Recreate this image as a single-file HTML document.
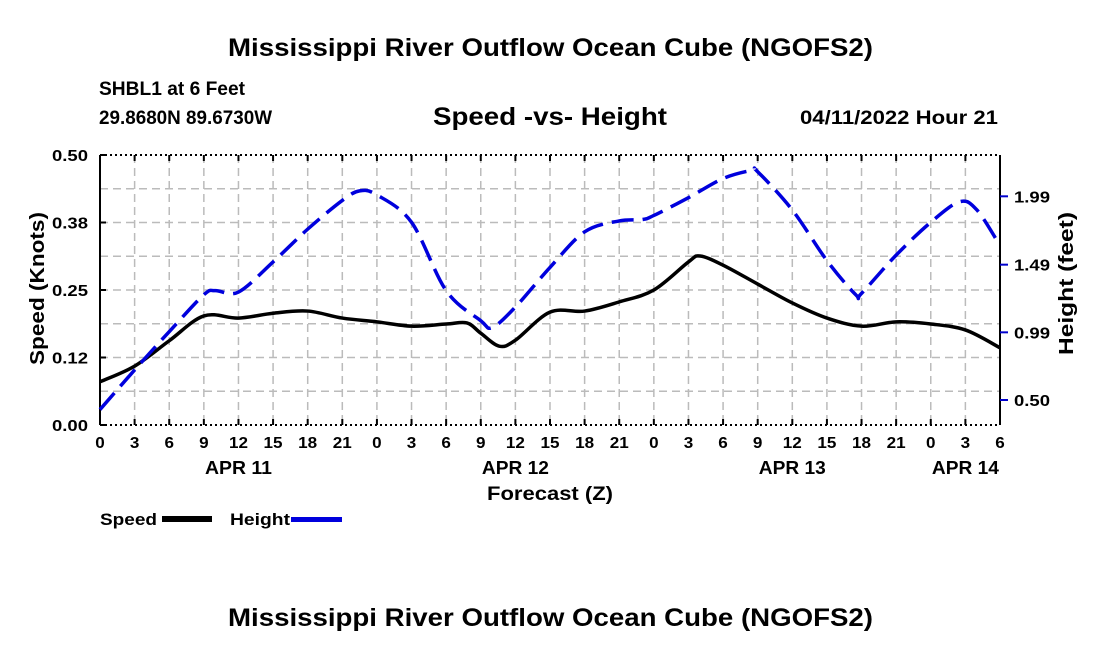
<!DOCTYPE html>
<html><head><meta charset="utf-8"><style>
body{margin:0;background:#fff;}
svg{display:block;font-family:"Liberation Sans",Arial,sans-serif;font-weight:bold;}
</style></head><body>
<svg id="chart" width="1100" height="650" viewBox="0 0 1100 650" xmlns="http://www.w3.org/2000/svg">
<text x="228" y="56" font-size="25" textLength="645" lengthAdjust="spacingAndGlyphs">Mississippi River Outflow Ocean Cube (NGOFS2)</text>
<text x="99" y="95" font-size="19" textLength="146" lengthAdjust="spacingAndGlyphs">SHBL1 at 6 Feet</text>
<text x="99" y="124" font-size="19" textLength="173" lengthAdjust="spacingAndGlyphs">29.8680N  89.6730W</text>
<text x="433" y="125" font-size="25" textLength="234" lengthAdjust="spacingAndGlyphs">Speed -vs- Height</text>
<text x="800" y="124" font-size="19" textLength="198" lengthAdjust="spacingAndGlyphs">04/11/2022 Hour 21</text>
<g id="grid"></g>
<g id="axes"></g>
<g id="series"></g>
<text transform="translate(44,365) rotate(-90)" font-size="20" textLength="153" lengthAdjust="spacingAndGlyphs">Speed (Knots)</text>
<text transform="translate(1073,355) rotate(-90)" font-size="20" textLength="143" lengthAdjust="spacingAndGlyphs">Height (feet)</text>
<text x="487" y="500" font-size="19" textLength="126" lengthAdjust="spacingAndGlyphs">Forecast (Z)</text>
<g>
<text x="100" y="525" font-size="17" textLength="57" lengthAdjust="spacingAndGlyphs">Speed</text>
<rect x="162" y="516" width="50" height="6" fill="#000"/>
<text x="230" y="525" font-size="17" textLength="60" lengthAdjust="spacingAndGlyphs">Height</text>
<rect x="291" y="517" width="51" height="5" fill="#0000dd"/>
</g>
<text x="228" y="626" font-size="25" textLength="645" lengthAdjust="spacingAndGlyphs">Mississippi River Outflow Ocean Cube (NGOFS2)</text>
</svg>
<script>
const speedHours=[0,3,6,9,12,15,18,21,24,27,30,31.8,33,34.6,36,39,42,45,48,51,52,54,57,60,63,66,69,72,75,78];
const speedValues=[0.080,0.109,0.156,0.202,0.198,0.207,0.211,0.198,0.191,0.183,0.187,0.189,0.170,0.146,0.157,0.209,0.211,0.228,0.250,0.302,0.313,0.296,0.261,0.226,0.198,0.183,0.191,0.187,0.176,0.143];
const heightHours=[0,3,6,9,10,12,15,18,21,22.5,24,27,30,33,34,36,39,42,45,47,48,51,54,56.5,57,60,63,65.5,66,69,72,74.5,76,78];
const heightValues=[0.43,0.72,1.00,1.27,1.30,1.29,1.51,1.75,1.96,2.03,2.00,1.80,1.30,1.08,1.03,1.18,1.47,1.73,1.81,1.82,1.85,1.98,2.12,2.18,2.17,1.89,1.52,1.27,1.28,1.56,1.80,1.95,1.89,1.63];
const xTickLabels=["0","3","6","9","12","15","18","21","0","3","6","9","12","15","18","21","0","3","6","9","12","15","18","21","0","3","6"];
const dayLabels=["APR 11","APR 12","APR 13","APR 14"];
const dayLabelHours=[12,36,60,75];
const speedTicks=[0,0.125,0.25,0.375,0.5];
const speedTickLabels=["0.00","0.12","0.25","0.38","0.50"];
const heightTicks=[0.5,0.995,1.49,1.99];
const heightTickLabels=["0.50","0.99","1.49","1.99"];

const L=100,R=1000,T=155,B=425,NS="http://www.w3.org/2000/svg";
const xs=h=>L+(h/78)*(R-L);
const ys=v=>B-(v/0.5)*(B-T);
const yh=v=>400-(v-0.5)*136.7;
function mk(tag,attrs,parent){const e=document.createElementNS(NS,tag);for(const k in attrs)e.setAttribute(k,attrs[k]);parent.appendChild(e);return e;}
const grid=document.getElementById('grid'),axes=document.getElementById('axes'),series=document.getElementById('series');
for(let i=1;i<8;i++){const y=ys(i*0.0625);
 const g=mk('line',{x1:L,x2:R,y1:y,y2:y,stroke:'#bbb','stroke-width':1.5,'stroke-dasharray':'8,5'},grid);
 
 }
for(let i=1;i<26;i++){const x=xs(i*3);
 const g=mk('line',{x1:x,x2:x,y1:T,y2:B,stroke:'#bbb','stroke-width':1.5,'stroke-dasharray':'8,5'},grid);
 
 }
[[L,T,L,B],[R,T,R,B]].forEach(c=>{const l=mk('line',{x1:c[0],y1:c[1],x2:c[2],y2:c[3],stroke:'#000','stroke-width':2},axes);
 
 });
[T,B].forEach(y=>{const l=mk('line',{x1:L,y1:y,x2:R,y2:y,stroke:'#000','stroke-width':2,'stroke-dasharray':'2,3'},axes);
 
 });
xTickLabels.forEach((t,i)=>{const x=xs(i*3);
 mk('line',{x1:x,x2:x,y1:B,y2:B-6,stroke:'#000','stroke-width':2},axes);
 mk('line',{x1:x,x2:x,y1:T,y2:T+6,stroke:'#000','stroke-width':2},axes);
 const tx=mk('text',{x:x,y:B+23,'font-size':16,'text-anchor':'middle',textLength:t.length*9.5,lengthAdjust:'spacingAndGlyphs'},axes);tx.textContent=t;
 
 });
dayLabels.forEach((d,i)=>{const tx=mk('text',{x:xs(dayLabelHours[i]),y:B+49,'font-size':18,'text-anchor':'middle',textLength:67,lengthAdjust:'spacingAndGlyphs'},axes);tx.textContent=d;
 
 });
speedTicks.forEach((v,i)=>{const y=ys(v);
 mk('line',{x1:L,x2:L+6,y1:y,y2:y,stroke:'#000','stroke-width':2},axes);
 const tx=mk('text',{x:L-12,y:y+6,'font-size':16,'text-anchor':'end',textLength:36,lengthAdjust:'spacingAndGlyphs'},axes);tx.textContent=speedTickLabels[i];
 
 });
heightTicks.forEach((v,i)=>{const y=yh(v);
 mk('line',{x1:R,x2:R+8,y1:y,y2:y,stroke:'#0000cc','stroke-width':2},axes);
 const tx=mk('text',{x:R+14,y:y+6,'font-size':16,textLength:36,lengthAdjust:'spacingAndGlyphs'},axes);tx.textContent=heightTickLabels[i];
 
 });
function curve(pts){let d=`M${pts[0][0]},${pts[0][1]}`;
 for(let i=0;i<pts.length-1;i++){const p0=pts[Math.max(i-1,0)],p1=pts[i],p2=pts[i+1],p3=pts[Math.min(i+2,pts.length-1)];
  const c1=[p1[0]+(p2[0]-p0[0])/6,p1[1]+(p2[1]-p0[1])/6],c2=[p2[0]-(p3[0]-p1[0])/6,p2[1]-(p3[1]-p1[1])/6];
  d+=` C${c1[0]},${c1[1]} ${c2[0]},${c2[1]} ${p2[0]},${p2[1]}`;}return d;}
const sp=mk('path',{d:curve(speedHours.map((h,i)=>[xs(h),ys(speedValues[i])])),fill:'none',stroke:'#000','stroke-width':3.5},series);


const hp=mk('path',{d:curve(heightHours.map((h,i)=>[xs(h),yh(heightValues[i])])),fill:'none',stroke:'#0000dd','stroke-width':3.5,'stroke-dasharray':'22,9'},series);


</script>
</body></html>
